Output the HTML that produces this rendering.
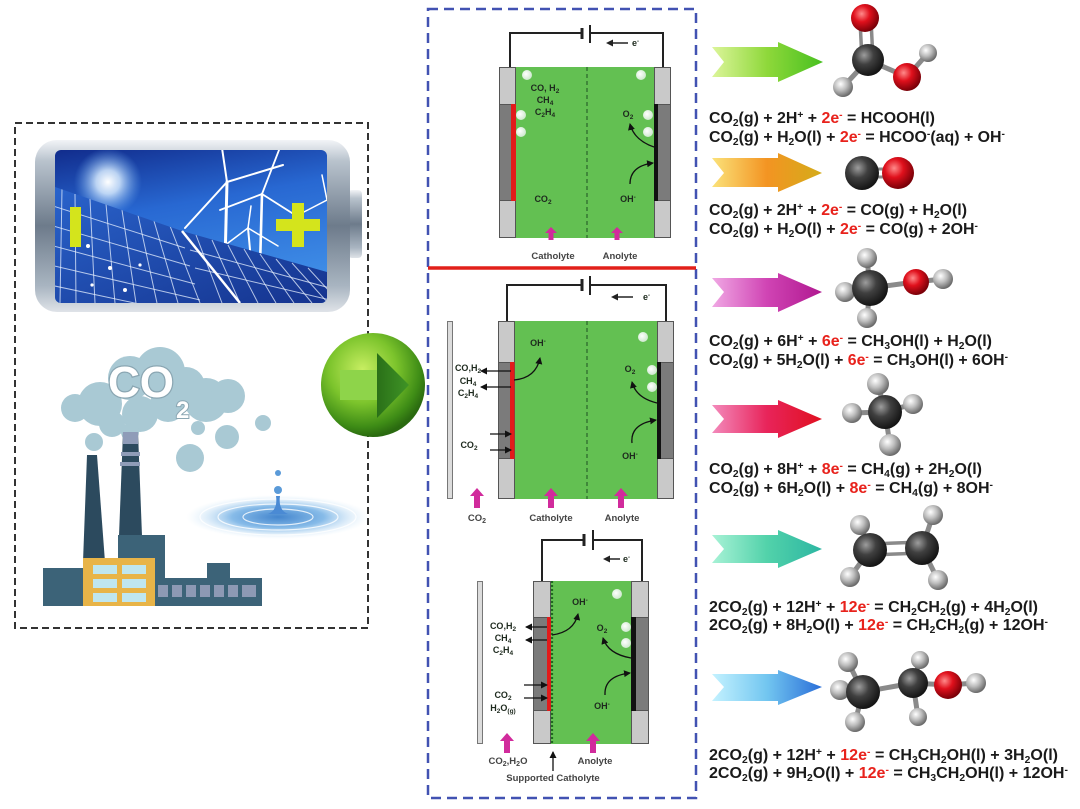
<!DOCTYPE html>
<html><head><meta charset="utf-8"><style>
html,body{margin:0;padding:0;background:#fff;}
svg{display:block;}
.eq{font-family:"Liberation Sans",Arial,sans-serif;font-weight:bold;font-size:15.5px;fill:#1a1a1a;}
.s{font-size:10px;}
.r{fill:#e8221c;}
.c{font-family:"Liberation Sans",Arial,sans-serif;font-weight:bold;font-size:9px;fill:#1e2a1e;}
.lb{font-family:"Liberation Sans",Arial,sans-serif;font-weight:bold;font-size:9.5px;fill:#444;}
</style></head><body>
<svg width="1080" height="809" viewBox="0 0 1080 809" xmlns="http://www.w3.org/2000/svg">
<defs>
<radialGradient id="gC" cx="38%" cy="35%" r="65%"><stop offset="0" stop-color="#9d9d9d"/><stop offset="0.45" stop-color="#404040"/><stop offset="1" stop-color="#151515"/></radialGradient>
<radialGradient id="gO" cx="38%" cy="35%" r="65%"><stop offset="0" stop-color="#ff8a8a"/><stop offset="0.45" stop-color="#e0101c"/><stop offset="1" stop-color="#7a0008"/></radialGradient>
<radialGradient id="gH" cx="38%" cy="35%" r="65%"><stop offset="0" stop-color="#ffffff"/><stop offset="0.5" stop-color="#bdbdbd"/><stop offset="1" stop-color="#6a6a6a"/></radialGradient>
<linearGradient id="a1" x1="0" x2="1"><stop offset="0" stop-color="#dcf59a"/><stop offset="0.5" stop-color="#8ed83a"/><stop offset="1" stop-color="#48c020"/></linearGradient>
<linearGradient id="a2" x1="0" x2="1"><stop offset="0" stop-color="#fbe27a"/><stop offset="0.5" stop-color="#f39422"/><stop offset="1" stop-color="#d4ac1a"/></linearGradient>
<linearGradient id="a3" x1="0" x2="1"><stop offset="0" stop-color="#f0a8e4"/><stop offset="0.5" stop-color="#d044b4"/><stop offset="1" stop-color="#b01890"/></linearGradient>
<linearGradient id="a4" x1="0" x2="1"><stop offset="0" stop-color="#f38abc"/><stop offset="0.5" stop-color="#e8245a"/><stop offset="1" stop-color="#e01020"/></linearGradient>
<linearGradient id="a5" x1="0" x2="1"><stop offset="0" stop-color="#a8f2d6"/><stop offset="0.5" stop-color="#52d2aa"/><stop offset="1" stop-color="#2cb6a2"/></linearGradient>
<linearGradient id="a6" x1="0" x2="1"><stop offset="0" stop-color="#c4f2ff"/><stop offset="0.5" stop-color="#72c6f0"/><stop offset="1" stop-color="#2a6ed8"/></linearGradient>
<linearGradient id="metal" x1="0" y1="0" x2="0" y2="1"><stop offset="0" stop-color="#f2f4f7"/><stop offset="0.12" stop-color="#b9c3cd"/><stop offset="0.5" stop-color="#6d7b8b"/><stop offset="0.85" stop-color="#a9b5c1"/><stop offset="1" stop-color="#dfe3e8"/></linearGradient>
<linearGradient id="sky" x1="0" y1="0" x2="0.3" y2="1"><stop offset="0" stop-color="#112c8c"/><stop offset="0.45" stop-color="#2868d2"/><stop offset="1" stop-color="#3e8ce6"/></linearGradient>
<linearGradient id="panel" x1="0" y1="0" x2="1" y2="1"><stop offset="0" stop-color="#2a64cc"/><stop offset="1" stop-color="#15338e"/></linearGradient>
<radialGradient id="sun" cx="50%" cy="50%" r="50%"><stop offset="0" stop-color="#ffffff"/><stop offset="0.35" stop-color="#d8ecff" stop-opacity="0.85"/><stop offset="1" stop-color="#6aaaf0" stop-opacity="0"/></radialGradient>
<radialGradient id="gball" cx="40%" cy="35%" r="65%"><stop offset="0" stop-color="#c8ee62"/><stop offset="0.5" stop-color="#7cc42c"/><stop offset="0.85" stop-color="#3e8c16"/><stop offset="1" stop-color="#2a6a10"/></radialGradient>
<linearGradient id="ghead" x1="0" x2="1"><stop offset="0" stop-color="#2a7018"/><stop offset="1" stop-color="#3f9426"/></linearGradient>
<radialGradient id="ripple" cx="50%" cy="50%" r="50%"><stop offset="0" stop-color="#2f78c8"/><stop offset="0.5" stop-color="#7ab4e6"/><stop offset="1" stop-color="#d8ecfa" stop-opacity="0"/></radialGradient>
<radialGradient id="bub" cx="40%" cy="40%" r="60%"><stop offset="0" stop-color="#ffffff"/><stop offset="1" stop-color="#cfe9cf"/></radialGradient>
<marker id="ah" markerUnits="userSpaceOnUse" markerWidth="7" markerHeight="7" refX="6" refY="3.5" orient="auto"><path d="M0,0 L7,3.5 L0,7 z" fill="#111"/></marker>
<clipPath id="pclip"><polygon points="52,186 182,231 327,272 327,303 55,303"/></clipPath>
<clipPath id="inner"><rect x="55" y="150" width="272" height="153" rx="6"/></clipPath>
</defs>

<!-- ===== LEFT PANEL ===== -->
<rect x="15" y="123" width="353" height="505" fill="none" stroke="#333" stroke-width="2" stroke-dasharray="7 4"/>

<!-- battery -->
<rect x="348" y="190" width="14" height="68" rx="4" fill="url(#metal)"/>
<rect x="35" y="140" width="315" height="172" rx="22" fill="url(#metal)"/>
<g clip-path="url(#inner)">
<rect x="55" y="150" width="272" height="153" fill="url(#sky)"/>
<circle cx="108" cy="182" r="34" fill="url(#sun)"/>
<!-- turbines -->
<g stroke="#ffffff" stroke-linecap="round" fill="none">
<path d="M227 182 L224 303" stroke-width="3"/>
<path d="M227 182 L222 148 M227 182 L283 165 M227 182 L185 228" stroke-width="2"/>
<path d="M262 194 L259 303" stroke-width="2.6"/>
<path d="M262 194 L279 150 M262 194 L220 210 M262 194 L303 220" stroke-width="1.8"/>
<path d="M248 228 L255 303" stroke-width="2"/>
<path d="M248 228 L251 206 M248 228 L224 246 M248 228 L278 246" stroke-width="1.5"/>
<path d="M327 200 L300 214 M327 200 L322 175" stroke-width="1.5"/>
</g>
<!-- solar panel -->
<polygon points="52,186 182,231 327,272 327,303 55,303" fill="url(#panel)"/>
<g clip-path="url(#pclip)" stroke="#e8f2ff" stroke-opacity="0.75" stroke-width="1" fill="none">
<path d="M62 189 L60 303 M75 194 L76 303 M90 199 L95 303 M106 204 L115 303 M122 210 L136 303 M138 215 L157 303 M154 221 L178 303 M170 226 L200 303"/>
<path d="M50 205 L185 248 M50 225 L190 266 M50 245 L195 284 M50 265 L200 300 M50 285 L205 318"/>
<path d="M196 235 L222 303 M212 240 L240 303 M228 245 L258 303 M244 249 L276 303 M260 254 L294 303 M276 259 L312 303 M292 263 L328 303 M308 268 L340 303"/>
<path d="M190 250 L330 288 M195 268 L330 300"/>
</g>
<path d="M182 231 L240 303" stroke="#ffffff" stroke-width="2.5"/>
<g fill="#ffffff"><circle cx="88" cy="246" r="2"/><circle cx="110" cy="268" r="2"/><circle cx="125" cy="290" r="2"/><circle cx="140" cy="265" r="1.6"/><circle cx="92" cy="285" r="1.6"/></g>
</g>
<rect x="70" y="207" width="11" height="40" fill="#d4e41c"/>
<rect x="276" y="219" width="44" height="12" fill="#d4e41c"/>
<rect x="292" y="203" width="12" height="44" fill="#d4e41c"/>

<!-- CO2 cloud -->
<g fill="#a9c9d4">
<circle cx="75" cy="408" r="14"/><circle cx="100" cy="404" r="22"/><circle cx="130" cy="378" r="22"/>
<circle cx="160" cy="372" r="25"/><circle cx="186" cy="386" r="19"/><circle cx="206" cy="400" r="22"/>
<circle cx="228" cy="396" r="17"/><circle cx="140" cy="414" r="18"/><circle cx="112" cy="424" r="13"/>
<circle cx="94" cy="442" r="9"/><circle cx="130" cy="432" r="9"/><circle cx="168" cy="404" r="18"/>
<circle cx="263" cy="423" r="8"/><circle cx="227" cy="437" r="12"/><circle cx="190" cy="458" r="14"/><circle cx="198" cy="428" r="7"/>
</g>
<text x="108" y="397" font-family="Liberation Sans,Arial,sans-serif" font-weight="bold" font-size="44" fill="#ffffff" stroke="#8aa6b2" stroke-width="2.5" paint-order="stroke">CO</text>
<text x="176" y="418" font-family="Liberation Sans,Arial,sans-serif" font-weight="bold" font-size="24" fill="#ffffff" stroke="#8aa6b2" stroke-width="2" paint-order="stroke">2</text>

<!-- water -->
<ellipse cx="278" cy="517" rx="92" ry="22" fill="url(#ripple)" opacity="0.9"/>
<g fill="none" stroke="#ffffff" stroke-opacity="0.8" stroke-width="1.2">
<ellipse cx="278" cy="517" rx="60" ry="13"/><ellipse cx="278" cy="517" rx="35" ry="8"/><ellipse cx="278" cy="517" rx="78" ry="18"/>
</g>
<path d="M268 514 Q278 510 276 496 L280 496 Q278 510 288 514 Z" fill="#4a8ad4"/>
<circle cx="278" cy="490" r="4" fill="#5a9ad8"/>
<circle cx="278" cy="473" r="3" fill="#5a9ad8"/>

<!-- factory -->
<polygon points="87,455 97,455 105,562 83,562" fill="#2c4a5e"/>
<polygon points="123,432 138,432 143,562 118,562" fill="#2c4a5e"/>
<rect x="123" y="432" width="15" height="12" fill="#8f9cb8"/>
<rect x="121" y="452" width="19" height="4" fill="#8f9cb8"/>
<rect x="120" y="462" width="20" height="4" fill="#8f9cb8"/>
<rect x="118" y="535" width="47" height="71" fill="#3c6378"/>
<rect x="43" y="568" width="42" height="38" fill="#3c6378"/>
<rect x="207" y="563" width="23" height="20" fill="#3c6378"/>
<rect x="155" y="578" width="107" height="28" fill="#3c6378"/>
<g fill="#8d99b4"><rect x="158" y="585" width="10" height="12"/><rect x="172" y="585" width="10" height="12"/><rect x="186" y="585" width="10" height="12"/><rect x="200" y="585" width="10" height="12"/><rect x="214" y="585" width="10" height="12"/><rect x="228" y="585" width="10" height="12"/><rect x="242" y="585" width="14" height="12"/></g>
<rect x="83" y="558" width="72" height="48" fill="#e8b448"/>
<g fill="#bfe6ef"><rect x="93" y="565" width="24" height="9"/><rect x="122" y="565" width="24" height="9"/><rect x="93" y="579" width="24" height="9"/><rect x="122" y="579" width="24" height="9"/><rect x="93" y="593" width="24" height="9"/><rect x="122" y="593" width="24" height="9"/></g>

<!-- green ball arrow -->
<circle cx="373" cy="385" r="52" fill="url(#gball)"/>
<rect x="340" y="370" width="38" height="30" fill="#8ed44a"/>
<polygon points="377,353 409,385 377,418" fill="url(#ghead)"/>

<!-- ===== MIDDLE PANEL ===== -->
<rect x="428" y="9" width="268" height="789" fill="none" stroke="#4252b2" stroke-width="2.5" stroke-dasharray="10 6"/>
<line x1="428" y1="268" x2="696" y2="268" stroke="#e2201a" stroke-width="3.5"/>

<!-- top cell -->
<path d="M510 67 V33 H582 M590 33 H663 V67" stroke="#222" stroke-width="2" fill="none"/>
<line x1="582" y1="28" x2="582" y2="39" stroke="#222" stroke-width="3"/>
<line x1="590" y1="25" x2="590" y2="43" stroke="#222" stroke-width="2"/>
<line x1="613" y1="43" x2="628" y2="43" stroke="#222" stroke-width="1.5"/>
<polygon points="606,43 613,39.5 613,46.5" fill="#222"/>
<text x="632" y="46" class="c" font-size="8">e<tspan dy="-3" font-size="6">-</tspan></text>
<rect x="516" y="67" width="138" height="171" fill="#63c052"/>
<line x1="587" y1="67" x2="587" y2="238" stroke="#2d6b2d" stroke-width="1.3" stroke-dasharray="4 3"/>
<rect x="499.5" y="67.5" width="16" height="170" fill="#c9c9c9" stroke="#555"/>
<rect x="499.5" y="104.5" width="16" height="96" fill="#7b7b7b" stroke="#555"/>
<rect x="511" y="104" width="5" height="97" fill="#e21b1b"/>
<rect x="654.5" y="67.5" width="16" height="170" fill="#c9c9c9" stroke="#555"/>
<rect x="654.5" y="104.5" width="16" height="96" fill="#7b7b7b" stroke="#555"/>
<rect x="654" y="104" width="4" height="97" fill="#111"/>
<g fill="url(#bub)"><circle cx="527" cy="75" r="5"/><circle cx="521" cy="115" r="5"/><circle cx="521" cy="132" r="5"/><circle cx="641" cy="75" r="5"/><circle cx="648" cy="115" r="5"/><circle cx="648" cy="132" r="5"/></g>
<text class="c" text-anchor="middle"><tspan x="545" y="91">CO, H<tspan font-size="6.5" dy="2">2</tspan></tspan><tspan x="545" y="103">CH<tspan font-size="6.5" dy="2">4</tspan></tspan><tspan x="545" y="115">C<tspan font-size="6.5" dy="2">2</tspan><tspan dy="-2">H</tspan><tspan font-size="6.5" dy="2">4</tspan></tspan></text>
<text x="543" y="202" class="c" text-anchor="middle">CO<tspan font-size="6.5" dy="2">2</tspan></text>
<text x="628" y="117" class="c" text-anchor="middle">O<tspan font-size="6.5" dy="2">2</tspan></text>
<text x="628" y="202" class="c" text-anchor="middle">OH<tspan font-size="6.5" dy="-3">-</tspan></text>
<path d="M654 147 Q634 140 630 124" stroke="#111" stroke-width="1.3" fill="none" marker-end="url(#ah)"/>
<path d="M630 184 Q630 166 653 163" stroke="#111" stroke-width="1.3" fill="none" marker-end="url(#ah)"/>
<g fill="#d12b9c"><polygon points="551,227 557,233 553.5,233 553.5,240 548.5,240 548.5,233 545,233"/><polygon points="617,227 623,233 619.5,233 619.5,240 614.5,240 614.5,233 611,233"/></g>
<text x="553" y="259" class="lb" text-anchor="middle">Catholyte</text>
<text x="620" y="259" class="lb" text-anchor="middle">Anolyte</text>

<!-- middle cell -->
<path d="M507 321 V285 H582 M590 285 H666 V321" stroke="#222" stroke-width="2" fill="none"/>
<line x1="582" y1="279" x2="582" y2="291" stroke="#222" stroke-width="3"/>
<line x1="590" y1="276" x2="590" y2="295" stroke="#222" stroke-width="2"/>
<line x1="618" y1="297" x2="633" y2="297" stroke="#222" stroke-width="1.5"/>
<polygon points="611,297 618,293.5 618,300.5" fill="#222"/>
<text x="643" y="300" class="c" font-size="8">e<tspan dy="-3" font-size="6">-</tspan></text>
<rect x="447.5" y="321.5" width="5" height="177" fill="#dcdcdc" stroke="#777"/>
<rect x="514" y="321" width="143" height="178" fill="#63c052"/>
<line x1="587" y1="321" x2="587" y2="499" stroke="#2d6b2d" stroke-width="1.3" stroke-dasharray="4 3"/>
<rect x="498.5" y="321.5" width="16" height="177" fill="#c9c9c9" stroke="#555"/>
<rect x="498.5" y="362.5" width="16" height="96" fill="#7b7b7b" stroke="#555"/>
<rect x="510" y="362" width="4.5" height="97" fill="#e21b1b"/>
<rect x="657.5" y="321.5" width="16" height="177" fill="#c9c9c9" stroke="#555"/>
<rect x="657.5" y="362.5" width="16" height="96" fill="#7b7b7b" stroke="#555"/>
<rect x="657" y="362" width="4" height="97" fill="#111"/>
<g fill="url(#bub)"><circle cx="643" cy="337" r="5"/><circle cx="652" cy="370" r="5"/><circle cx="652" cy="387" r="5"/></g>
<text x="538" y="346" class="c" text-anchor="middle">OH<tspan font-size="6.5" dy="-3">-</tspan></text>
<path d="M514 380 Q536 378 540 358" stroke="#111" stroke-width="1.3" fill="none" marker-end="url(#ah)"/>
<text class="c" text-anchor="middle"><tspan x="468" y="371">CO,H<tspan font-size="6.5" dy="2">2</tspan></tspan><tspan x="468" y="384">CH<tspan font-size="6.5" dy="2">4</tspan></tspan><tspan x="468" y="396">C<tspan font-size="6.5" dy="2">2</tspan><tspan dy="-2">H</tspan><tspan font-size="6.5" dy="2">4</tspan></tspan></text>
<g stroke="#111" stroke-width="1.2" marker-end="url(#ah)"><line x1="511" y1="371" x2="481" y2="371"/><line x1="511" y1="387" x2="481" y2="387"/><line x1="490" y1="434" x2="511" y2="434"/><line x1="490" y1="450" x2="511" y2="450"/></g>
<text x="469" y="448" class="c" text-anchor="middle">CO<tspan font-size="6.5" dy="2">2</tspan></text>
<text x="630" y="372" class="c" text-anchor="middle">O<tspan font-size="6.5" dy="2">2</tspan></text>
<text x="630" y="459" class="c" text-anchor="middle">OH<tspan font-size="6.5" dy="-3">-</tspan></text>
<path d="M657 403 Q636 398 632 382" stroke="#111" stroke-width="1.3" fill="none" marker-end="url(#ah)"/>
<path d="M632 443 Q630 424 656 420" stroke="#111" stroke-width="1.3" fill="none" marker-end="url(#ah)"/>
<g fill="#d12b9c"><polygon points="477,488 484,496 480,496 480,508 474,508 474,496 470,496"/><polygon points="551,488 558,496 554,496 554,508 548,508 548,496 544,496"/><polygon points="621,488 628,496 624,496 624,508 618,508 618,496 614,496"/></g>
<text x="477" y="521" class="lb" text-anchor="middle">CO<tspan font-size="7" dy="2">2</tspan></text>
<text x="551" y="521" class="lb" text-anchor="middle">Catholyte</text>
<text x="622" y="521" class="lb" text-anchor="middle">Anolyte</text>

<!-- bottom cell -->
<path d="M542 581 V540 H584 M593 540 H642 V581" stroke="#222" stroke-width="2" fill="none"/>
<line x1="584" y1="534" x2="584" y2="546" stroke="#222" stroke-width="3"/>
<line x1="593" y1="530" x2="593" y2="550" stroke="#222" stroke-width="2"/>
<line x1="610" y1="559" x2="620" y2="559" stroke="#222" stroke-width="1.5"/>
<polygon points="603,559 610,555.5 610,562.5" fill="#222"/>
<text x="623" y="562" class="c" font-size="8">e<tspan dy="-3" font-size="6">-</tspan></text>
<rect x="477.5" y="581.5" width="5" height="162" fill="#dcdcdc" stroke="#777"/>
<rect x="551" y="581" width="80" height="163" fill="#63c052"/>
<rect x="533.5" y="581.5" width="17" height="162" fill="#c9c9c9" stroke="#555"/>
<rect x="533.5" y="617.5" width="17" height="93" fill="#7b7b7b" stroke="#555"/>
<rect x="547" y="617" width="4" height="94" fill="#e21b1b"/>
<line x1="552" y1="581" x2="552" y2="744" stroke="#1f6a1f" stroke-width="2.2" stroke-dasharray="2 2"/>
<rect x="631.5" y="581.5" width="17" height="162" fill="#c9c9c9" stroke="#555"/>
<rect x="631.5" y="617.5" width="17" height="93" fill="#7b7b7b" stroke="#555"/>
<rect x="631" y="617" width="5" height="94" fill="#111"/>
<g fill="url(#bub)"><circle cx="617" cy="594" r="5"/><circle cx="626" cy="627" r="5"/><circle cx="626" cy="643" r="5"/></g>
<text x="580" y="605" class="c" text-anchor="middle">OH<tspan font-size="6.5" dy="-3">-</tspan></text>
<path d="M552 635 Q574 632 578 614" stroke="#111" stroke-width="1.3" fill="none" marker-end="url(#ah)"/>
<text class="c" text-anchor="middle"><tspan x="503" y="629">CO,H<tspan font-size="6.5" dy="2">2</tspan></tspan><tspan x="503" y="641">CH<tspan font-size="6.5" dy="2">4</tspan></tspan><tspan x="503" y="653">C<tspan font-size="6.5" dy="2">2</tspan><tspan dy="-2">H</tspan><tspan font-size="6.5" dy="2">4</tspan></tspan></text>
<g stroke="#111" stroke-width="1.2" marker-end="url(#ah)"><line x1="547" y1="627" x2="526" y2="627"/><line x1="547" y1="640" x2="526" y2="640"/><line x1="524" y1="685" x2="547" y2="685"/><line x1="524" y1="698" x2="547" y2="698"/></g>
<text x="503" y="698" class="c" text-anchor="middle">CO<tspan font-size="6.5" dy="2">2</tspan></text>
<text x="503" y="711" class="c" text-anchor="middle">H<tspan font-size="6.5" dy="2">2</tspan><tspan dy="-2">O</tspan><tspan font-size="6.5" dy="2">(g)</tspan></text>
<text x="602" y="631" class="c" text-anchor="middle">O<tspan font-size="6.5" dy="2">2</tspan></text>
<text x="602" y="709" class="c" text-anchor="middle">OH<tspan font-size="6.5" dy="-3">-</tspan></text>
<path d="M631 658 Q608 654 603 638" stroke="#111" stroke-width="1.3" fill="none" marker-end="url(#ah)"/>
<path d="M605 695 Q604 676 630 673" stroke="#111" stroke-width="1.3" fill="none" marker-end="url(#ah)"/>
<g fill="#d12b9c"><polygon points="507,733 514,741 510,741 510,753 504,753 504,741 500,741"/><polygon points="593,733 600,741 596,741 596,753 590,753 590,741 586,741"/></g>
<line x1="553" y1="771" x2="553" y2="752" stroke="#111" stroke-width="1.3" marker-end="url(#ah)"/>
<text x="508" y="764" class="lb" text-anchor="middle">CO<tspan font-size="7" dy="2">2</tspan><tspan dy="-2">,H</tspan><tspan font-size="7" dy="2">2</tspan><tspan dy="-2">O</tspan></text>
<text x="595" y="764" class="lb" text-anchor="middle">Anolyte</text>
<text x="553" y="781" class="lb" text-anchor="middle">Supported Catholyte</text>

<!-- ===== RIGHT: arrows ===== -->
<polygon points="712,47 778,47 778,42 823,62 778,82 778,77 712,77 724,62" fill="url(#a1)"/>
<polygon points="712,158 778,158 778,153 822,173 778,192 778,187 712,187 724,173" fill="url(#a2)"/>
<polygon points="712,278 778,278 778,273 822,292 778,312 778,307 712,307 724,292" fill="url(#a3)"/>
<polygon points="712,405 778,405 778,400 822,419 778,438 778,433 712,433 724,419" fill="url(#a4)"/>
<polygon points="712,535 778,535 778,530 822,549 778,568 778,563 712,563 724,549" fill="url(#a5)"/>
<polygon points="712,674 778,674 778,670 822,687 778,705 778,701 712,701 724,687" fill="url(#a6)"/>

<!-- molecules -->
<g stroke="#8a8a8a" stroke-width="5" stroke-linecap="round">
<!-- HCOOH -->
<line x1="862" y1="60" x2="860" y2="20" stroke-width="3.5"/><line x1="873" y1="60" x2="871" y2="20" stroke-width="3.5"/>
<line x1="868" y1="60" x2="843" y2="87"/><line x1="868" y1="60" x2="907" y2="77"/><line x1="907" y1="77" x2="928" y2="53"/>
<!-- CO -->
<line x1="863" y1="169" x2="897" y2="169" stroke-width="3"/><line x1="863" y1="177" x2="897" y2="177" stroke-width="3"/>
<!-- methanol -->
<line x1="870" y1="288" x2="867" y2="258"/><line x1="870" y1="288" x2="845" y2="292"/><line x1="870" y1="288" x2="867" y2="318"/><line x1="870" y1="288" x2="915" y2="282"/><line x1="915" y1="282" x2="943" y2="279"/>
<!-- methane -->
<line x1="885" y1="412" x2="878" y2="384"/><line x1="885" y1="412" x2="852" y2="413"/><line x1="885" y1="412" x2="913" y2="404"/><line x1="885" y1="412" x2="890" y2="445"/>
<!-- ethylene -->
<line x1="870" y1="544" x2="922" y2="542" stroke-width="3.5"/><line x1="870" y1="555" x2="922" y2="553" stroke-width="3.5"/>
<line x1="870" y1="550" x2="860" y2="525"/><line x1="870" y1="550" x2="850" y2="577"/><line x1="922" y1="548" x2="933" y2="515"/><line x1="922" y1="548" x2="938" y2="580"/>
<!-- ethanol -->
<line x1="863" y1="692" x2="913" y2="683"/><line x1="913" y1="683" x2="948" y2="685"/><line x1="948" y1="685" x2="976" y2="683"/>
<line x1="863" y1="692" x2="848" y2="662"/><line x1="863" y1="692" x2="840" y2="690"/><line x1="863" y1="692" x2="855" y2="722"/>
<line x1="913" y1="683" x2="920" y2="660"/><line x1="913" y1="683" x2="918" y2="717"/>
</g>
<!-- HCOOH atoms -->
<circle cx="865" cy="18" r="14" fill="url(#gO)"/>
<circle cx="843" cy="87" r="10" fill="url(#gH)"/>
<circle cx="928" cy="53" r="9" fill="url(#gH)"/>
<circle cx="868" cy="60" r="16" fill="url(#gC)"/>
<circle cx="907" cy="77" r="14" fill="url(#gO)"/>
<!-- CO -->
<circle cx="862" cy="173" r="17" fill="url(#gC)"/>
<circle cx="898" cy="173" r="16" fill="url(#gO)"/>
<!-- methanol -->
<circle cx="867" cy="258" r="10" fill="url(#gH)"/>
<circle cx="845" cy="292" r="10" fill="url(#gH)"/>
<circle cx="867" cy="318" r="10" fill="url(#gH)"/>
<circle cx="943" cy="279" r="10" fill="url(#gH)"/>
<circle cx="870" cy="288" r="18" fill="url(#gC)"/>
<circle cx="916" cy="282" r="13" fill="url(#gO)"/>
<!-- methane -->
<circle cx="878" cy="384" r="11" fill="url(#gH)"/>
<circle cx="913" cy="404" r="10" fill="url(#gH)"/>
<circle cx="852" cy="413" r="10" fill="url(#gH)"/>
<circle cx="885" cy="412" r="17" fill="url(#gC)"/>
<circle cx="890" cy="445" r="11" fill="url(#gH)"/>
<!-- ethylene -->
<circle cx="860" cy="525" r="10" fill="url(#gH)"/>
<circle cx="933" cy="515" r="10" fill="url(#gH)"/>
<circle cx="870" cy="550" r="17" fill="url(#gC)"/>
<circle cx="922" cy="548" r="17" fill="url(#gC)"/>
<circle cx="850" cy="577" r="10" fill="url(#gH)"/>
<circle cx="938" cy="580" r="10" fill="url(#gH)"/>
<!-- ethanol -->
<circle cx="848" cy="662" r="10" fill="url(#gH)"/>
<circle cx="920" cy="660" r="9" fill="url(#gH)"/>
<circle cx="840" cy="690" r="10" fill="url(#gH)"/>
<circle cx="976" cy="683" r="10" fill="url(#gH)"/>
<circle cx="863" cy="692" r="17" fill="url(#gC)"/>
<circle cx="913" cy="683" r="15" fill="url(#gC)"/>
<circle cx="948" cy="685" r="14" fill="url(#gO)"/>
<circle cx="855" cy="722" r="10" fill="url(#gH)"/>
<circle cx="918" cy="717" r="9" fill="url(#gH)"/>

<!-- equations -->
<g class="eq">
<text x="709" y="123" textLength="226" lengthAdjust="spacingAndGlyphs">CO<tspan class="s" dy="3">2</tspan><tspan dy="-3">(g) + 2H</tspan><tspan class="s" dy="-5">+</tspan><tspan dy="5"> + </tspan><tspan class="r">2e</tspan><tspan class="s r" dy="-5">-</tspan><tspan dy="5"> = HCOOH(l)</tspan></text>
<text x="709" y="142" textLength="296" lengthAdjust="spacingAndGlyphs">CO<tspan class="s" dy="3">2</tspan><tspan dy="-3">(g) + H</tspan><tspan class="s" dy="3">2</tspan><tspan dy="-3">O(l) + </tspan><tspan class="r">2e</tspan><tspan class="s r" dy="-5">-</tspan><tspan dy="5"> = HCOO</tspan><tspan class="s" dy="-5">-</tspan><tspan dy="5">(aq) + OH</tspan><tspan class="s" dy="-5">-</tspan></text>

<text x="709" y="215" textLength="258" lengthAdjust="spacingAndGlyphs">CO<tspan class="s" dy="3">2</tspan><tspan dy="-3">(g) + 2H</tspan><tspan class="s" dy="-5">+</tspan><tspan dy="5"> + </tspan><tspan class="r">2e</tspan><tspan class="s r" dy="-5">-</tspan><tspan dy="5"> = CO(g) + H</tspan><tspan class="s" dy="3">2</tspan><tspan dy="-3">O(l)</tspan></text>
<text x="709" y="234" textLength="269" lengthAdjust="spacingAndGlyphs">CO<tspan class="s" dy="3">2</tspan><tspan dy="-3">(g) + H</tspan><tspan class="s" dy="3">2</tspan><tspan dy="-3">O(l) + </tspan><tspan class="r">2e</tspan><tspan class="s r" dy="-5">-</tspan><tspan dy="5"> = CO(g) + 2OH</tspan><tspan class="s" dy="-5">-</tspan></text>

<text x="709" y="346" textLength="283" lengthAdjust="spacingAndGlyphs">CO<tspan class="s" dy="3">2</tspan><tspan dy="-3">(g) + 6H</tspan><tspan class="s" dy="-5">+</tspan><tspan dy="5"> + </tspan><tspan class="r">6e</tspan><tspan class="s r" dy="-5">-</tspan><tspan dy="5"> = CH</tspan><tspan class="s" dy="3">3</tspan><tspan dy="-3">OH(l) + H</tspan><tspan class="s" dy="3">2</tspan><tspan dy="-3">O(l)</tspan></text>
<text x="709" y="365" textLength="299" lengthAdjust="spacingAndGlyphs">CO<tspan class="s" dy="3">2</tspan><tspan dy="-3">(g) + 5H</tspan><tspan class="s" dy="3">2</tspan><tspan dy="-3">O(l) + </tspan><tspan class="r">6e</tspan><tspan class="s r" dy="-5">-</tspan><tspan dy="5"> = CH</tspan><tspan class="s" dy="3">3</tspan><tspan dy="-3">OH(l) + 6OH</tspan><tspan class="s" dy="-5">-</tspan></text>

<text x="709" y="474" textLength="273" lengthAdjust="spacingAndGlyphs">CO<tspan class="s" dy="3">2</tspan><tspan dy="-3">(g) + 8H</tspan><tspan class="s" dy="-5">+</tspan><tspan dy="5"> + </tspan><tspan class="r">8e</tspan><tspan class="s r" dy="-5">-</tspan><tspan dy="5"> = CH</tspan><tspan class="s" dy="3">4</tspan><tspan dy="-3">(g) + 2H</tspan><tspan class="s" dy="3">2</tspan><tspan dy="-3">O(l)</tspan></text>
<text x="709" y="493" textLength="284" lengthAdjust="spacingAndGlyphs">CO<tspan class="s" dy="3">2</tspan><tspan dy="-3">(g) + 6H</tspan><tspan class="s" dy="3">2</tspan><tspan dy="-3">O(l) + </tspan><tspan class="r">8e</tspan><tspan class="s r" dy="-5">-</tspan><tspan dy="5"> = CH</tspan><tspan class="s" dy="3">4</tspan><tspan dy="-3">(g) + 8OH</tspan><tspan class="s" dy="-5">-</tspan></text>

<text x="709" y="612" textLength="329" lengthAdjust="spacingAndGlyphs">2CO<tspan class="s" dy="3">2</tspan><tspan dy="-3">(g) + 12H</tspan><tspan class="s" dy="-5">+</tspan><tspan dy="5"> + </tspan><tspan class="r">12e</tspan><tspan class="s r" dy="-5">-</tspan><tspan dy="5"> = CH</tspan><tspan class="s" dy="3">2</tspan><tspan dy="-3">CH</tspan><tspan class="s" dy="3">2</tspan><tspan dy="-3">(g) + 4H</tspan><tspan class="s" dy="3">2</tspan><tspan dy="-3">O(l)</tspan></text>
<text x="709" y="630" textLength="339" lengthAdjust="spacingAndGlyphs">2CO<tspan class="s" dy="3">2</tspan><tspan dy="-3">(g) + 8H</tspan><tspan class="s" dy="3">2</tspan><tspan dy="-3">O(l) + </tspan><tspan class="r">12e</tspan><tspan class="s r" dy="-5">-</tspan><tspan dy="5"> = CH</tspan><tspan class="s" dy="3">2</tspan><tspan dy="-3">CH</tspan><tspan class="s" dy="3">2</tspan><tspan dy="-3">(g) + 12OH</tspan><tspan class="s" dy="-5">-</tspan></text>

<text x="709" y="760" textLength="349" lengthAdjust="spacingAndGlyphs">2CO<tspan class="s" dy="3">2</tspan><tspan dy="-3">(g) + 12H</tspan><tspan class="s" dy="-5">+</tspan><tspan dy="5"> + </tspan><tspan class="r">12e</tspan><tspan class="s r" dy="-5">-</tspan><tspan dy="5"> = CH</tspan><tspan class="s" dy="3">3</tspan><tspan dy="-3">CH</tspan><tspan class="s" dy="3">2</tspan><tspan dy="-3">OH(l) + 3H</tspan><tspan class="s" dy="3">2</tspan><tspan dy="-3">O(l)</tspan></text>
<text x="709" y="778" textLength="359" lengthAdjust="spacingAndGlyphs">2CO<tspan class="s" dy="3">2</tspan><tspan dy="-3">(g) + 9H</tspan><tspan class="s" dy="3">2</tspan><tspan dy="-3">O(l) + </tspan><tspan class="r">12e</tspan><tspan class="s r" dy="-5">-</tspan><tspan dy="5"> = CH</tspan><tspan class="s" dy="3">3</tspan><tspan dy="-3">CH</tspan><tspan class="s" dy="3">2</tspan><tspan dy="-3">OH(l) + 12OH</tspan><tspan class="s" dy="-5">-</tspan></text>
</g>
</svg>
</body></html>
